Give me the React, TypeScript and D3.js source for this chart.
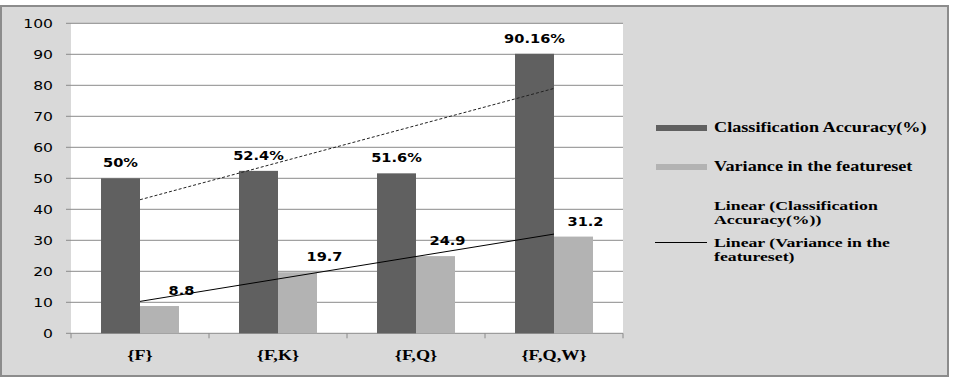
import React from 'react';
import * as d3 from 'd3';

const categories = ['{F}', '{F,K}', '{F,Q}', '{F,Q,W}'];
const accuracy = [50, 52.4, 51.6, 90.16];
const variance = [8.8, 19.7, 24.9, 31.2];
const accuracyLabels = ['50%', '52.4%', '51.6%', '90.16%'];
const varianceLabels = ['8.8', '19.7', '24.9', '31.2'];
const yTicks = [0, 10, 20, 30, 40, 50, 60, 70, 80, 90, 100];
// Excel nudged the variance labels sideways to keep them off the trend line
const varianceLabelShift = [22, 27, 12, 12];

const W = 955;
const H = 378;
const plot = { left: 71, right: 623, top: 23.3, bottom: 333.3 };

const DARK = '#606060';
const LIGHT = '#b3b3b3';
const GRID = '#8a8a8a';
const SERIF = '"Liberation Serif", "DejaVu Serif", serif';
const SANS = '"DejaVu Sans", Verdana, sans-serif';

// least squares fit over x = 1..n, returns value at each x
function trend(values: number[]) {
  const xs = values.map((_, i) => i + 1);
  const mx = d3.mean(xs) as number;
  const my = d3.mean(values) as number;
  const sxy = d3.sum(xs, (x, i) => (x - mx) * (values[i] - my));
  const sxx = d3.sum(xs, x => (x - mx) * (x - mx));
  const slope = sxy / sxx;
  return xs.map(x => my + slope * (x - mx));
}

// the source picture is stretched sideways, so text is widened to match
const Stretch = ({ x, y, sx, children, ...rest }: any) => (
  <text transform={`translate(${x},${y}) scale(${sx},1)`} {...rest}>
    {children}
  </text>
);

export default function App() {
  const x = d3
    .scaleBand()
    .domain(categories)
    .range([plot.left, plot.right]);
  const y = d3
    .scaleLinear()
    .domain([0, 100])
    .range([plot.bottom, plot.top]);

  const bw = x.bandwidth();
  const groupW = bw * 0.565;
  const inner = d3
    .scaleBand()
    .domain(['acc', 'var'])
    .range([(bw - groupW) / 2, (bw + groupW) / 2]);

  const center = (c: string) => (x(c) as number) + bw / 2;
  const line = d3
    .line<[number, number]>()
    .x(d => d[0])
    .y(d => d[1]);

  const accTrend = trend(accuracy);
  const varTrend = trend(variance);
  const accPath = line(categories.map((c, i) => [center(c), y(accTrend[i])]));
  const varPath = line(categories.map((c, i) => [center(c), y(varTrend[i])]));

  const legendX = 656;
  const legendTextX = 714;

  return (
    <svg
      width={W}
      height={H}
      style={{ position: 'absolute', left: 0, top: 0, background: '#fff' }}
    >
      <rect x={1} y={6} width={947} height={370} fill="#d9d9d9" stroke="#8c8c8c" strokeWidth={2} />
      <rect
        x={plot.left}
        y={plot.top}
        width={plot.right - plot.left}
        height={plot.bottom - plot.top}
        fill="#fff"
      />

      {/* grid + y axis */}
      {yTicks.map(t => (
        <g key={t}>
          <line x1={plot.left - 5} x2={plot.right} y1={y(t)} y2={y(t)} stroke={GRID} strokeWidth={1} />
          <Stretch
            x={53}
            y={y(t)}
            sx={1.3}
            dy="0.36em"
            textAnchor="end"
            fontFamily={SANS}
            fontSize={12}
            fill="#000"
          >
            {t}
          </Stretch>
        </g>
      ))}

      {/* x axis ticks */}
      {[...categories.map(c => x(c) as number), plot.right].map((px, i) => (
        <line key={i} x1={px} x2={px} y1={plot.bottom} y2={plot.bottom + 5} stroke={GRID} />
      ))}

      {/* bars */}
      {categories.map((c, i) => (
        <g key={c} transform={`translate(${x(c)},0)`}>
          <rect
            x={inner('acc')}
            y={y(accuracy[i])}
            width={inner.bandwidth()}
            height={y(0) - y(accuracy[i])}
            fill={DARK}
          />
          <rect
            x={inner('var')}
            y={y(variance[i])}
            width={inner.bandwidth()}
            height={y(0) - y(variance[i])}
            fill={LIGHT}
          />
        </g>
      ))}

      {/* trend lines */}
      <path d={accPath || ''} fill="none" stroke="#222" strokeWidth={1} strokeDasharray="3,2" />
      <path d={varPath || ''} fill="none" stroke="#000" strokeWidth={1} />

      {/* data labels */}
      {categories.map((c, i) => {
        const ax = (x(c) as number) + (inner('acc') as number) + inner.bandwidth() / 2;
        const vx = (x(c) as number) + (inner('var') as number) + inner.bandwidth() / 2;
        return (
          <g key={c} fontFamily={SANS} fontWeight="bold" fontSize={12.5} fill="#000">
            <Stretch x={ax} y={y(accuracy[i]) - 11} sx={1.17} textAnchor="middle">
              {accuracyLabels[i]}
            </Stretch>
            <Stretch
              x={vx + varianceLabelShift[i]}
              y={y(variance[i]) - 11}
              sx={1.17}
              textAnchor="middle"
            >
              {varianceLabels[i]}
            </Stretch>
          </g>
        );
      })}

      {/* category labels */}
      {categories.map(c => (
        <Stretch
          key={c}
          x={center(c)}
          y={360}
          sx={1.3}
          textAnchor="middle"
          fontFamily={SERIF}
          fontWeight="bold"
          fontSize={14}
        >
          {c}
        </Stretch>
      ))}

      {/* legend */}
      <g fontFamily={SERIF} fontWeight="bold" fontSize={14} fill="#000">
        <rect x={legendX} y={125} width={51} height={6} fill={DARK} />
        <Stretch x={legendTextX} y={132} sx={1.3}>Classification Accuracy(%)</Stretch>

        <rect x={legendX} y={164} width={51} height={6} fill={LIGHT} />
        <Stretch x={legendTextX} y={171} sx={1.3}>Variance in the featureset</Stretch>

        <g fontSize={12.5}>
          <Stretch x={legendTextX} y={210} sx={1.42}>Linear (Classification</Stretch>
          <Stretch x={legendTextX} y={223.5} sx={1.42}>Accuracy(%))</Stretch>
        </g>

        <line x1={legendX - 1} x2={legendX + 51} y1={242.5} y2={242.5} stroke="#000" strokeWidth={1} />
        <g fontSize={12.5}>
          <Stretch x={legendTextX} y={247} sx={1.42}>Linear (Variance in the</Stretch>
          <Stretch x={legendTextX} y={261} sx={1.42}>featureset)</Stretch>
        </g>
      </g>
    </svg>
  );
}
